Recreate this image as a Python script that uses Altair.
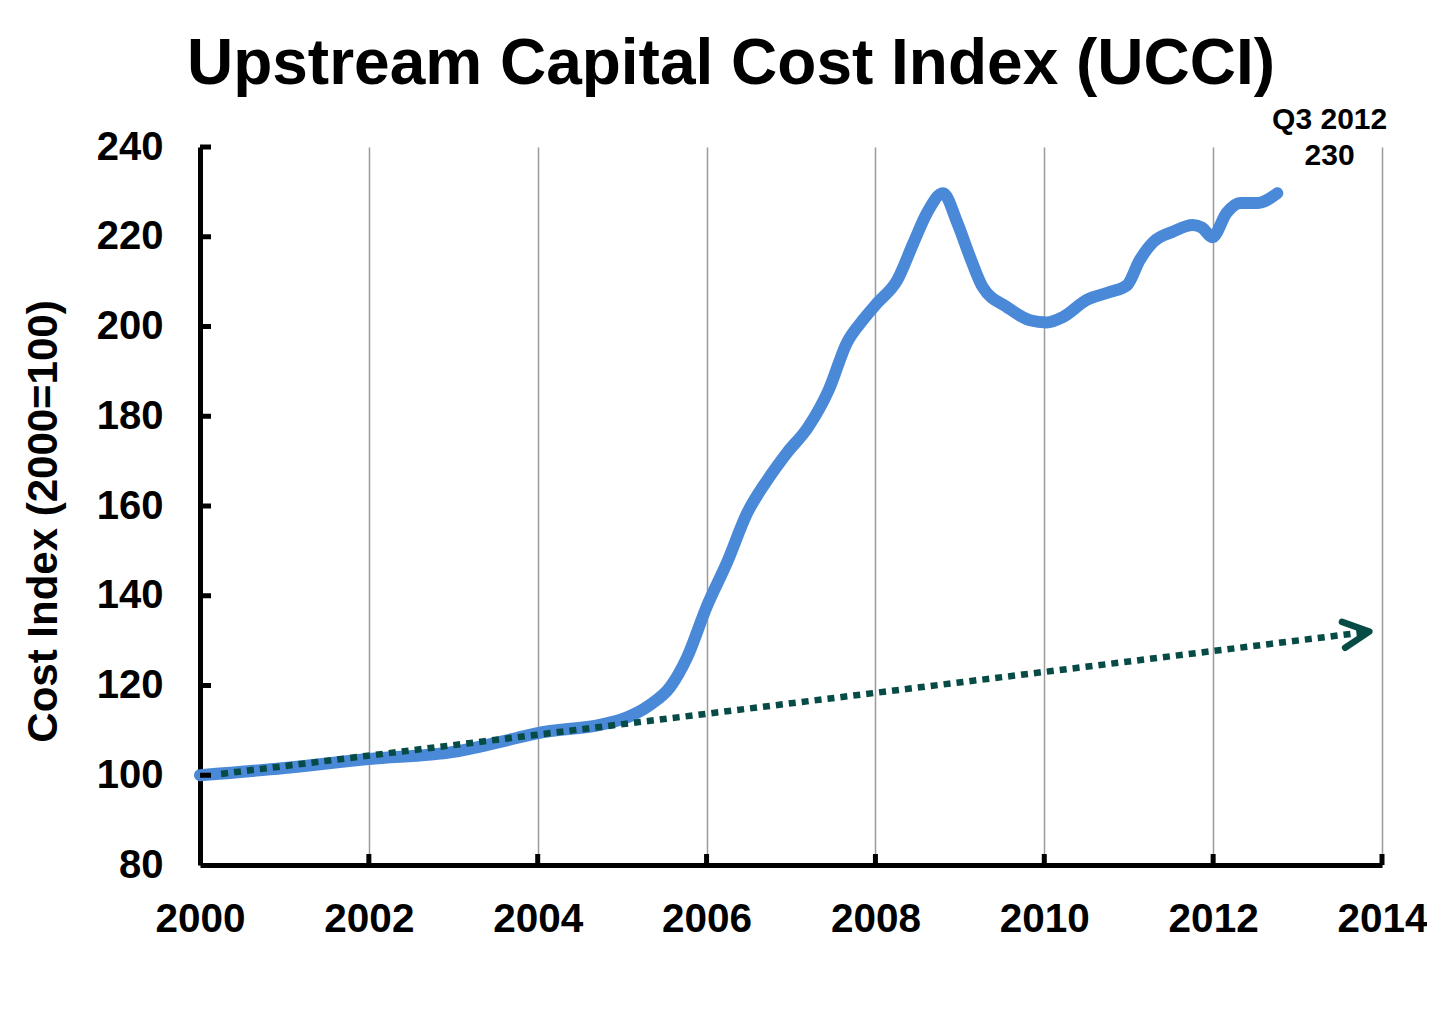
import altair as alt
import pandas as pd

# ---- data ----
years = [2000.0, 2001.0, 2002.0, 2003.0, 2003.75, 2004.0, 2004.75, 2005.0, 2005.33, 2005.57,
         2005.77, 2006.0, 2006.24, 2006.48, 2006.72, 2006.95, 2007.2, 2007.45, 2007.66, 2007.85,
         2008.02, 2008.26, 2008.45, 2008.61, 2008.8, 2008.97, 2009.12, 2009.27, 2009.56, 2009.83,
         2010.03, 2010.22, 2010.5, 2010.78, 2010.98, 2011.13, 2011.29, 2011.52, 2011.76, 2011.87,
         2011.99, 2012.16, 2012.32, 2012.52, 2012.76]
ucci = [100, 101.6, 103.6, 105.2, 108.3, 109.4, 111.3, 112.5, 115.7, 119.7,
        126.3, 137.5, 147.3, 158.4, 165.8, 171.8, 177.5, 186.0, 196.3, 201.4,
        205.2, 210.4, 218.6, 225.3, 229.7, 223.1, 215.5, 208.8, 204.3, 201.4,
        200.9, 202.1, 205.9, 207.7, 209.2, 214.8, 218.8, 221.1, 222.6, 222.0,
        219.9, 225.3, 227.5, 227.5, 229.7]

trend_start = [2000.25, 100.3]
trend_end = [2013.85, 132.0]

note_text = ["Q3 2012", "230"]
note_year = [2013.38, 2013.38]
note_value = [244.0, 236.0]

x_ticks = [2000, 2002, 2004, 2006, 2008, 2010, 2012, 2014]
y_ticks = [80, 100, 120, 140, 160, 180, 200, 220, 240]

FONT = "Liberation Sans"
BLUE = "#4a88d8"
TEAL = "#064b45"
W, H = 1182, 718

line_df = pd.DataFrame({"year": years, "value": ucci})
trend_df = pd.DataFrame({"year": [trend_start[0]], "value": [trend_start[1]],
                         "year2": [trend_end[0]], "value2": [trend_end[1]]})
tip_df = pd.DataFrame({"year": [trend_end[0]], "value": [trend_end[1]]})
note_df = pd.DataFrame({"year": note_year, "value": note_value, "label": note_text})
xt_df = pd.DataFrame({"year": x_ticks[1:]})
yt_df = pd.DataFrame({"value": y_ticks[1:]})

xscale = alt.Scale(domain=[2000, 2014], nice=False, zero=False)
yscale = alt.Scale(domain=[80, 240], nice=False, zero=False)

xaxis = alt.Axis(values=x_ticks, format="d", title=None, ticks=False,
                 labelFontSize=40.5, labelFont=FONT, labelFontWeight="bold", labelColor="black",
                 labelPadding=34, labelFlush=False, labelOverlap=False,
                 domainColor="black", domainWidth=5,
                 grid=True, gridColor="#9a9a9a", gridWidth=1.5)
yaxis = alt.Axis(values=y_ticks, title="Cost Index (2000=100)", ticks=False, grid=False,
                 labelFontSize=40, labelFont=FONT, labelFontWeight="bold", labelColor="black",
                 labelPadding=37, labelOverlap=False, labelFlush=False,
                 domainColor="black", domainWidth=5,
                 titleFont=FONT, titleFontSize=42, titleFontWeight="bold", titleColor="black",
                 titleAngle=270, titleX=-157, titleY=374, titleAlign="center",
                 titleBaseline="middle")

line = alt.Chart(line_df).mark_line(
    color=BLUE, strokeWidth=12, interpolate="monotone", strokeCap="round", strokeJoin="round"
).encode(
    x=alt.X("year:Q", scale=xscale, axis=xaxis),
    y=alt.Y("value:Q", scale=yscale, axis=yaxis),
)

trend = alt.Chart(trend_df).mark_rule(
    color=TEAL, strokeWidth=6.5, strokeDash=[7, 6]
).encode(
    x="year:Q", y="value:Q", x2="year2:Q", y2="value2:Q"
)

tip = alt.Chart(tip_df).mark_point(
    shape="M-1,-0.5L0,0L-1,0.5", filled=False, size=2704, strokeWidth=6.5,
    color=TEAL, opacity=1, angle=353, strokeCap="round", strokeJoin="round"
).encode(x="year:Q", y="value:Q")

notes = alt.Chart(note_df).mark_text(
    font=FONT, fontSize=30, fontWeight="bold", color="black",
    align="center", baseline="alphabetic"
).encode(x="year:Q", y="value:Q", text="label:N")

xtk = alt.Chart(xt_df).mark_rule(color="black", strokeWidth=5).encode(
    x="year:Q", y=alt.value(H), y2=alt.value(H - 11)
)
ytk = alt.Chart(yt_df).mark_rule(color="black", strokeWidth=5).encode(
    y="value:Q", x=alt.value(0), x2=alt.value(11)
)

chart = alt.layer(line, trend, tip, notes, xtk, ytk).properties(
    width=W, height=H,
    padding={"left": 192, "top": 139, "right": 45, "bottom": 136},
    autosize=alt.AutoSizeParams(type="none"),
    title=alt.TitleParams(
        text="Upstream Capital Cost Index (UCCI)", font=FONT, fontSize=64,
        fontWeight="bold", color="black", anchor="middle", dx=-60, dy=83,
        baseline="alphabetic", offset=40
    ),
).configure_view(strokeOpacity=0)

chart.save("out.html", embed_options={"renderer": "svg", "actions": False})
